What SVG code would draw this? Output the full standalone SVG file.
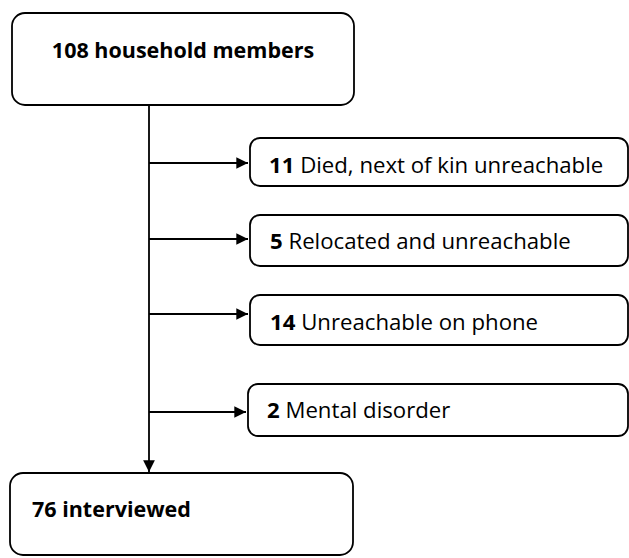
<svg xmlns="http://www.w3.org/2000/svg" width="629" height="558" viewBox="0 0 629 558">
<defs>
<style>
.box{fill:#ffffff;stroke:#000000;stroke-width:1.8}
.ln{fill:none;stroke:#000000;stroke-width:1.8}
.t{font-family:"Open Sans","Noto Sans","DejaVu Sans",sans-serif;font-size:21.5px;fill:#000000}
.s{font-size:22.2px}
.b{font-weight:bold}
</style>
<marker id="ah" viewBox="0 0 10 10" refX="10" refY="5" markerWidth="7" markerHeight="6.5" markerUnits="strokeWidth" orient="auto">
<path d="M0,0 L10,5 L0,10 Z" fill="#000000"/>
</marker>
</defs>
<rect width="629" height="558" fill="#ffffff"/>
<g id="connectors">
<line class="ln" x1="149" y1="105" x2="149" y2="472" marker-end="url(#ah)"/>
<line class="ln" x1="149" y1="163" x2="248" y2="163" marker-end="url(#ah)"/>
<line class="ln" x1="149" y1="239" x2="248" y2="239" marker-end="url(#ah)"/>
<line class="ln" x1="149" y1="314" x2="248" y2="314" marker-end="url(#ah)"/>
<line class="ln" x1="149" y1="412" x2="246" y2="412" marker-end="url(#ah)"/>
</g>
<g id="n_household">
<rect class="box" x="12" y="13" width="342" height="92" rx="13"/>
<text class="t b" x="183" y="58" text-anchor="middle">108 household members</text>
</g>
<g id="n_died">
<rect class="box" x="250" y="138" width="378" height="48" rx="10"/>
<text class="t s" x="269" y="173"><tspan class="b">11</tspan> Died, next of kin unreachable</text>
</g>
<g id="n_relocated">
<rect class="box" x="250" y="215" width="378" height="51" rx="10"/>
<text class="t s" x="270" y="249"><tspan class="b">5</tspan> Relocated and unreachable</text>
</g>
<g id="n_phone">
<rect class="box" x="250" y="295" width="378" height="50" rx="10"/>
<text class="t s" x="270" y="330"><tspan class="b">14</tspan> Unreachable on phone</text>
</g>
<g id="n_mental">
<rect class="box" x="248" y="384" width="380" height="52" rx="10"/>
<text class="t s" x="267" y="418"><tspan class="b">2</tspan> Mental disorder</text>
</g>
<g id="n_interviewed">
<rect class="box" x="10" y="473" width="343" height="82" rx="13"/>
<text class="t b" x="32" y="517">76 interviewed</text>
</g>
</svg>
